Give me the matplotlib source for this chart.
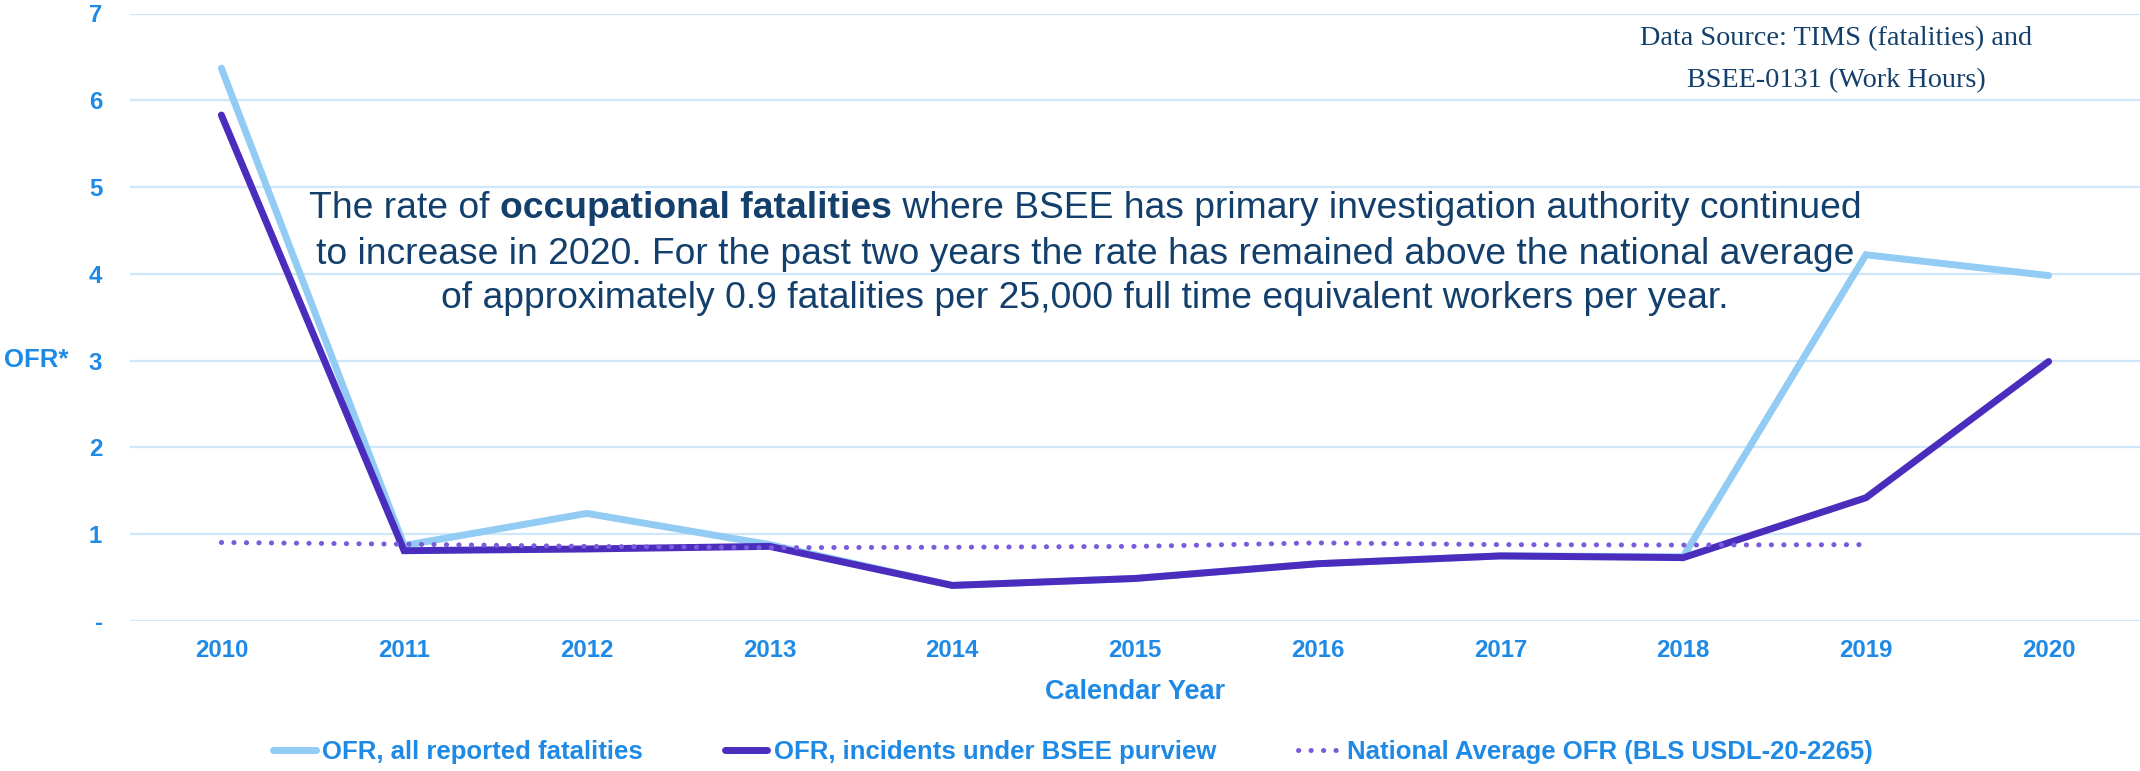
import matplotlib
matplotlib.use("Agg")
import matplotlib.pyplot as plt
from matplotlib.lines import Line2D

years = ["2010", "2011", "2012", "2013", "2014", "2015", "2016", "2017", "2018", "2019", "2020"]
ofr_all = [6.37, 0.87, 1.24, 0.88, 0.41, 0.49, 0.66, 0.75, 0.74, 4.22, 3.98]
ofr_bsee = [5.83, 0.81, 0.83, 0.86, 0.41, 0.49, 0.66, 0.75, 0.73, 1.42, 2.99]
nat_avg = [0.905, 0.885, 0.86, 0.845, 0.85, 0.86, 0.90, 0.88, 0.875, 0.88]
yticks = [0, 1, 2, 3, 4, 5, 6, 7]
ytick_labels = ["-", "1", "2", "3", "4", "5", "6", "7"]

C_LIGHT = "#92CBF3"
C_DARK = "#4A2DBD"
C_DOT = "#7A5BDB"
C_TICK = "#1E8AE6"
C_GRID = "#CFE7F9"
C_NAVY = "#123F6B"

plt.rcParams['font.family'] = ['Liberation Sans', 'DejaVu Sans']

fig = plt.figure(figsize=(21.4, 7.71), dpi=100)
ax = fig.add_axes([130 / 2140, 1 - 621 / 771, 1 - 130 / 2140, (621 - 13.5) / 771])

x = list(range(len(years)))
LW = 5
DLW = 3.6
DOTS = (0.05, 2.45)
ax.plot(x, ofr_all, color=C_LIGHT, lw=LW, solid_capstyle='round', solid_joinstyle='miter', zorder=3)
ax.plot(x, ofr_bsee, color=C_DARK, lw=LW, solid_capstyle='round', solid_joinstyle='miter', zorder=4)
ax.plot(x[:len(nat_avg)], nat_avg, color=C_DOT, lw=DLW, dashes=DOTS, dash_capstyle='round', zorder=5)

ax.set_xlim(-0.5, len(years) - 0.5)
ax.set_ylim(0, 7)
ax.set_xticks(x)
ax.set_xticklabels(years)
ax.set_yticks(yticks)
ax.set_yticklabels(ytick_labels)
ax.tick_params(axis='both', length=0, labelcolor=C_TICK, labelsize=17.3)
ax.tick_params(axis='x', pad=13)
ax.tick_params(axis='y', pad=20)
for lab in ax.get_xticklabels() + ax.get_yticklabels():
    lab.set_fontweight('bold')
ax.grid(axis='y', color=C_GRID, lw=1.6)
ax.set_axisbelow(True)
for s in ax.spines.values():
    s.set_visible(False)

ax.set_xlabel("Calendar Year", color=C_TICK, fontsize=19.5, fontweight='bold', labelpad=12)
fig.text(4 / 2140, 1 - 360 / 771, "OFR*", color=C_TICK, fontsize=18.5, fontweight='bold', ha='left', va='center')

# data source
fig.text(1836 / 2140, 1 - 39 / 771, "Data Source: TIMS (fatalities) and", family=['Liberation Serif'],
         color=C_NAVY, fontsize=20.3, ha='center', va='center')
fig.text(1836 / 2140, 1 - 81 / 771, "BSEE-0131 (Work Hours)", family=['Liberation Serif'],
         color=C_NAVY, fontsize=20.3, ha='center', va='center')

# annotation
cx = 1085 / 2140
fs = 26.8
fig.text(cx, 1 - 254 / 771,
         "to increase in 2020. For the past two years the rate has remained above the national average",
         color=C_NAVY, fontsize=fs, ha='center', va='center')
fig.text(cx, 1 - 299 / 771,
         "of approximately 0.9 fatalities per 25,000 full time equivalent workers per year.",
         color=C_NAVY, fontsize=fs, ha='center', va='center')
parts = [("The rate of ", 'normal'), ("occupational fatalities", 'bold'),
         (" where BSEE has primary investigation authority continued", 'normal')]
ys = 1 - 209 / 771
tobjs = [fig.text(0, ys, p, color=C_NAVY, fontsize=fs, fontweight=w, ha='left', va='center') for p, w in parts]
fig.canvas.draw()
r = fig.canvas.get_renderer()
widths = [t.get_window_extent(r).width for t in tobjs]
total = sum(widths)
start = cx * 2140 - total / 2
for t, w in zip(tobjs, widths):
    t.set_x(start / 2140)
    start += w

handles = [Line2D([], [], color=C_LIGHT, lw=LW, solid_capstyle='round'),
           Line2D([], [], color=C_DARK, lw=LW, solid_capstyle='round'),
           Line2D([], [], color=C_DOT, lw=DLW, dashes=DOTS, dash_capstyle='round')]
labels = ["OFR, all reported fatalities", "OFR, incidents under BSEE purview",
          "National Average OFR (BLS USDL-20-2265)"]
leg = fig.legend(handles, labels, loc='center', bbox_to_anchor=(1073 / 2140, 1 - 752 / 771),
                 ncol=3, frameon=False, handlelength=1.65, handletextpad=0.25, columnspacing=3.2,
                 prop={'weight': 'bold', 'size': 18.5})
for t in leg.get_texts():
    t.set_color(C_TICK)

fig.savefig("out.png", dpi=100)
